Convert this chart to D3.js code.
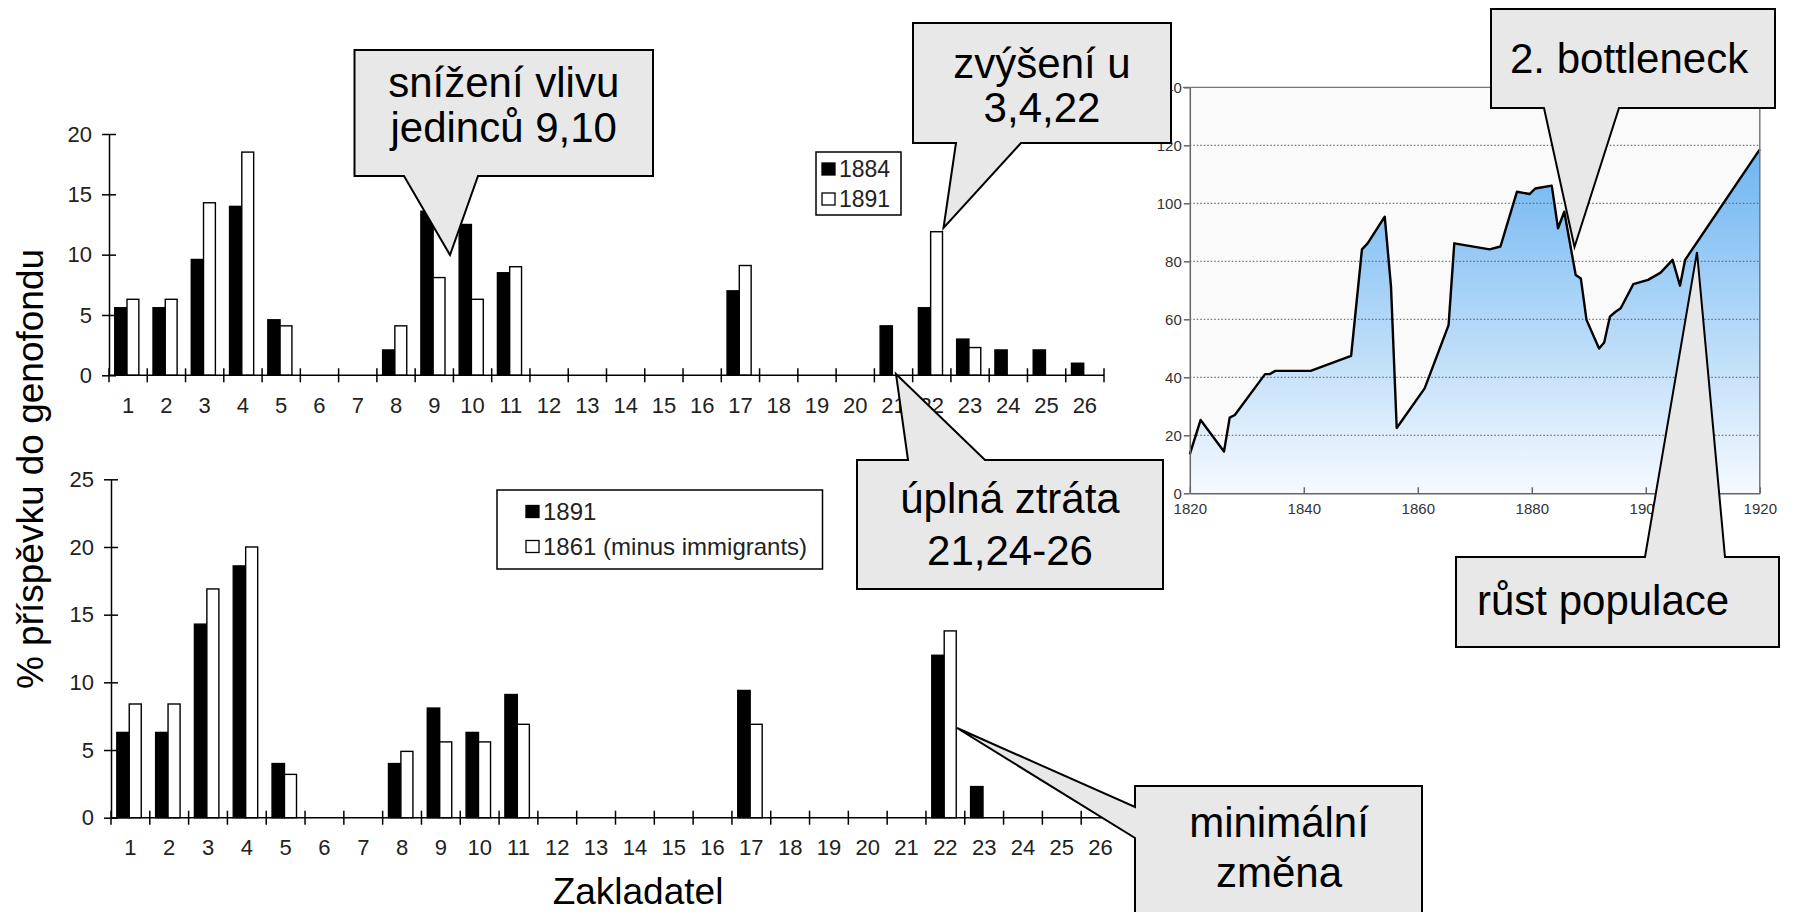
<!DOCTYPE html>
<html><head><meta charset="utf-8">
<script src="https://cdn.jsdelivr.net/npm/d3@7"></script>
<style>
body{margin:0;background:#fff}
svg{display:block}
text{font-family:"Liberation Sans",Arial,Helvetica,sans-serif}
</style>
</head><body>
<svg id="c" width="1793" height="912"></svg>
<script>
// ---------- data ----------
const founders = ["1","2","3","4","5","6","7","8","9","10","11","12","13","14","15","16","17","18","19","20","21","22","23","24","25","26"];
const top1884 = [5.6,5.6,9.6,14.0,4.6,0,0,2.1,13.6,12.5,8.5,0,0,0,0,0,7.0,0,0,0,4.1,5.6,3.0,2.1,2.1,1.0];
const top1891 = [6.3,6.3,14.3,18.5,4.1,0,0,4.1,8.1,6.3,9.0,0,0,0,0,0,9.1,0,0,0,0,11.9,2.3,0,0,0];
const bottom1891 = [6.3,6.3,14.3,18.6,4.0,0,0,4.0,8.1,6.3,9.1,0,0,0,0,0,9.4,0,0,0,0,12.0,2.3,0,0,0];
const bottom1861 = [8.4,8.4,16.9,20.0,3.2,0,0,4.9,5.6,5.6,6.9,0,0,0,0,0,6.9,0,0,0,0,13.8,0,0,0,0];
const yTicksTop = [0,5,10,15,20];
const yTicksBottom = [0,5,10,15,20,25];
const legendTop = ["1884","1891"];
const legendBottom = ["1891","1861 (minus immigrants)"];

const popYears  = [1820,1821.9,1826,1827,1827.9,1833.2,1834,1835,1841.2,1848.3,1850.2,1851.2,1854.2,1855.3,1856.3,1861.2,1865.4,1866.4,1872.6,1874.5,1877.4,1879.6,1880.6,1883.5,1884.6,1885.7,1887.7,1888.6,1889.6,1891.8,1892.7,1893.7,1894.7,1895.6,1897.8,1900.4,1902.6,1904.7,1906.0,1906.9,1920];
const popValues = [13.4,25.3,14.4,26.1,27.0,41.1,41.1,42.2,42.2,47.4,84.1,86.2,95.4,71.3,22.5,36.2,58.0,86.2,84.1,85.1,104.0,103.2,105.1,106.1,91.4,97.1,75.3,74.1,59.8,49.9,52.0,60.9,62.6,63.8,72.1,73.6,76.1,80.5,71.6,80.5,118.6];
const popYTicks = [0,20,40,60,80,100,120,140];
const popXTicks = [1820,1840,1860,1880,1900,1920];

const yTitle = "% příspěvku do genofondu";
const xTitle = "Zakladatel";
const calloutTexts = [
  ["snížení vlivu","jedinců 9,10"],
  ["zvýšení u","3,4,22"],
  ["úplná ztráta","21,24-26"],
  ["minimální","změna"],
  ["2. bottleneck"],
  ["růst populace"]
];

// ---------- drawing ----------
const svg = d3.select("#c");
const FONT = '"Liberation Sans",Arial,Helvetica,sans-serif';

function barChart(cfg){
  const x = d3.scaleBand().domain(founders).range([cfg.x0, cfg.x1]);
  const y = d3.scaleLinear().domain([0, cfg.max]).range([cfg.yb, cfg.yt]);
  const bw = x.bandwidth();
  const g = svg.append("g");
  const series = [
    {vals: cfg.a, fill:"#000", off:0.15, w:0.32},
    {vals: cfg.b, fill:"#fff", off:0.47, w:0.31}
  ];
  series.forEach(s=>{
    g.append("g").selectAll("rect")
      .data(founders.map((f,i)=>({f, v:s.vals[i]})).filter(d=>d.v>0))
      .join("rect")
      .attr("x", d=>x(d.f)+s.off*bw).attr("width", s.w*bw)
      .attr("y", d=>y(d.v)).attr("height", d=>y(0)-y(d.v))
      .attr("fill", s.fill).attr("stroke","#000").attr("stroke-width",1.4);
  });
  // y axis
  const ya = g.append("g").attr("transform",`translate(${cfg.x0},0)`)
    .call(d3.axisLeft(y).tickValues(cfg.ticks).tickSize(7).tickSizeOuter(0).tickPadding(10));
  ya.attr("font-family",FONT).attr("font-size",22);
  ya.selectAll(".tick line").attr("x1",7).attr("stroke","#000").attr("stroke-width",1.5);
  ya.select(".domain").attr("stroke","#000").attr("stroke-width",1.5);
  ya.selectAll("text").attr("fill","#222");
  // x axis
  const xa = g.append("g").attr("transform",`translate(0,${cfg.yb})`)
    .call(d3.axisBottom(x).tickSize(0).tickPadding(22));
  xa.attr("font-family",FONT).attr("font-size",22);
  xa.select(".domain").remove();
  xa.selectAll("text").attr("fill","#222");
  g.append("line").attr("x1",cfg.x0).attr("x2",cfg.xEnd).attr("y1",y(0)).attr("y2",y(0))
    .attr("stroke","#000").attr("stroke-width",1.5);
  const bounds = founders.map(f=>x(f)).concat([x.range()[1]]);
  g.append("g").selectAll("line").data(bounds).join("line")
    .attr("x1",d=>d).attr("x2",d=>d).attr("y1",y(0)-7).attr("y2",y(0)+7)
    .attr("stroke","#000").attr("stroke-width",1.5);
  // legend
  const L = cfg.legend;
  const lg = g.append("g");
  lg.append("rect").attr("x",L.x).attr("y",L.y).attr("width",L.w).attr("height",L.h)
    .attr("fill","#fff").attr("stroke","#000").attr("stroke-width",1.5);
  L.labels.forEach((t,i)=>{
    const cy = L.y + L.first + i*L.step;
    lg.append("rect").attr("x",L.x+L.pad).attr("y",cy-6).attr("width",13).attr("height",12)
      .attr("fill", i===0?"#000":"#fff").attr("stroke","#000").attr("stroke-width",1.3);
    lg.append("text").attr("x",L.x+L.pad+17).attr("y",cy).attr("dy","0.35em")
      .attr("font-size",L.fs).attr("fill","#222").text(t);
  });
}

barChart({x0:109, x1:1104, xEnd:1104, yt:134, yb:375.3, max:20, ticks:yTicksTop, a:top1884, b:top1891,
  legend:{x:816,y:152,w:85,h:63,pad:6,first:17,step:30,fs:23,labels:legendTop}});
barChart({x0:111, x1:1120, xEnd:1135, yt:479.3, yb:817.7, max:25, ticks:yTicksBottom, a:bottom1891, b:bottom1861,
  legend:{x:497,y:490,w:325.5,h:79,pad:29,first:21.5,step:35,fs:24,labels:legendBottom}});

// axis titles
svg.append("text").attr("transform","translate(43,469) rotate(-90)").attr("text-anchor","middle")
  .attr("font-size",37).attr("fill","#000").text(yTitle);
svg.append("text").attr("x",638).attr("y",904).attr("text-anchor","middle")
  .attr("font-size",37).attr("fill","#000").text(xTitle);

// ---------- population chart ----------
const px = d3.scaleLinear().domain([1820,1920]).range([1189.8,1759.8]);
const py = d3.scaleLinear().domain([0,140]).range([493.3,87.3]);
const pg = svg.append("g");
const defs = svg.append("defs");
const grad = defs.append("linearGradient").attr("id","popGrad").attr("gradientUnits","userSpaceOnUse")
  .attr("x1",0).attr("x2",0).attr("y1",py(120)).attr("y2",py(0));
grad.append("stop").attr("offset",0).attr("stop-color","#6cb4f1");
grad.append("stop").attr("offset",1).attr("stop-color","#f6faff");

pg.append("rect").attr("x",px(1820)).attr("y",py(140)).attr("width",px(1920)-px(1820)).attr("height",py(0)-py(140))
  .attr("fill","#fafafa");
const pts = popYears.map((yr,i)=>[yr,popValues[i]]);
pg.append("path").datum(pts)
  .attr("d", d3.area().x(d=>px(d[0])).y0(py(0)).y1(d=>py(d[1])))
  .attr("fill","url(#popGrad)");
pg.append("g").selectAll("line").data(popYTicks.filter(v=>v>0 && v<140)).join("line")
  .attr("x1",px(1820)).attr("x2",px(1920)).attr("y1",d=>py(d)).attr("y2",d=>py(d))
  .attr("stroke","#555").attr("stroke-width",1).attr("stroke-dasharray","1.5,2");
pg.append("path").datum(pts)
  .attr("d", d3.line().x(d=>px(d[0])).y(d=>py(d[1])))
  .attr("fill","none").attr("stroke","#000").attr("stroke-width",2.4).attr("stroke-linejoin","round");
// frame
pg.append("line").attr("x1",px(1820)-7).attr("x2",px(1920)).attr("y1",py(140)).attr("y2",py(140)).attr("stroke","#777").attr("stroke-width",1.2);
pg.append("line").attr("x1",px(1920)).attr("x2",px(1920)).attr("y1",py(140)).attr("y2",py(0)).attr("stroke","#777").attr("stroke-width",1.5);
const pya = pg.append("g").attr("transform",`translate(${px(1820)},0)`)
  .call(d3.axisLeft(py).tickValues(popYTicks).tickSize(6).tickSizeOuter(0).tickPadding(2));
pya.attr("font-family",FONT).attr("font-size",15);
pya.selectAll("line,.domain").attr("stroke","#666").attr("stroke-width",1.5);
pya.selectAll("text").attr("fill","#333");
const pxa = pg.append("g").attr("transform",`translate(0,${py(0)})`)
  .call(d3.axisBottom(px).tickValues(popXTicks).tickFormat(d3.format("d")).tickSize(6).tickSizeOuter(0).tickPadding(4));
pxa.attr("font-family",FONT).attr("font-size",15);
pxa.selectAll(".tick line").attr("y1",-6).attr("y2",0);
pxa.selectAll("line,.domain").attr("stroke","#666").attr("stroke-width",1.5);
pxa.selectAll("text").attr("fill","#333");

// ---------- callouts ----------
const callouts = [
  {box:[354.5,50,653,176], side:"bottom", base:[404,478], tip:[450,255], anchor:"middle", tx:503.7, lines:[96.7,141.7]},
  {box:[913,23,1171,143], side:"bottom", base:[956,1021], tip:[943.5,228], anchor:"middle", tx:1042, lines:[78,122]},
  {box:[857,460,1163,589], side:"top", base:[908,985], tip:[896,374], anchor:"middle", tx:1010, lines:[513,565]},
  {box:[1135,786,1422,920], side:"left", base:[807,838], tip:[957,728], anchor:"middle", tx:1279, lines:[837,887]},
  {box:[1491,9,1775,108], side:"bottom", base:[1544,1619], tip:[1574.5,247], anchor:"start", tx:1510, lines:[73]},
  {box:[1456,557,1779,647], side:"top", base:[1645,1725], tip:[1697,252], anchor:"start", tx:1477, lines:[615]}
];
const cg = svg.append("g");
callouts.forEach((c,i)=>{
  const [x0,y0,x1,y1] = c.box, [b0,b1] = c.base, [tx,ty] = c.tip;
  let d;
  if(c.side==="bottom") d = `M${x0},${y0}H${x1}V${y1}H${b1}L${tx},${ty}L${b0},${y1}H${x0}Z`;
  else if(c.side==="top") d = `M${x0},${y0}H${b0}L${tx},${ty}L${b1},${y0}H${x1}V${y1}H${x0}Z`;
  else d = `M${x0},${y0}H${x1}V${y1}H${x0}V${b1}L${tx},${ty}L${x0},${b0}Z`;
  cg.append("path").attr("d",d).attr("fill","#e8e8e8").attr("stroke","#000").attr("stroke-width",2);
  calloutTexts[i].forEach((t,j)=>{
    cg.append("text").attr("x",c.tx).attr("y",c.lines[j]).attr("text-anchor",c.anchor)
      .attr("font-size",42).attr("fill","#000").text(t);
  });
});
</script>
</body></html>
